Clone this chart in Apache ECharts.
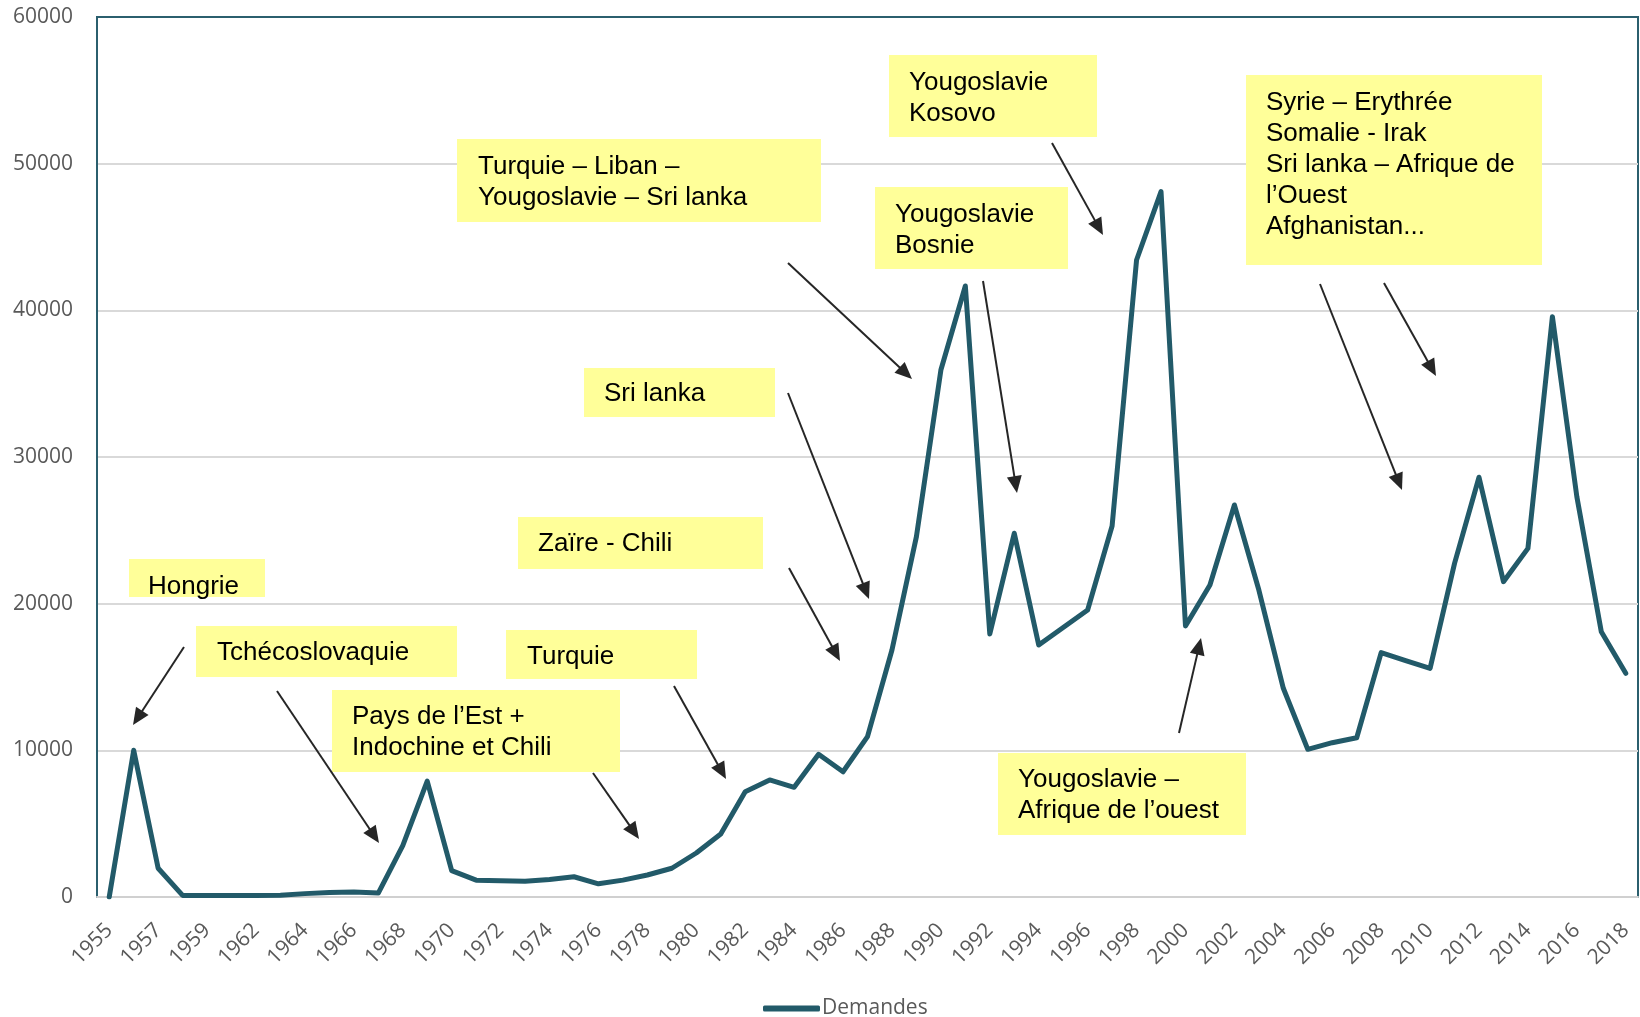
<!DOCTYPE html>
<html>
<head>
<meta charset="utf-8">
<script src="https://cdn.jsdelivr.net/npm/echarts@6/dist/echarts.min.js"></script>
<style>
  html, body { margin: 0; padding: 0; background: #fff; }
  #chart { width: 1640px; height: 1017px; }
</style>
</head>
<body>
<div id="chart"></div>
<script>
// years (1960 is absent from the source table)
const years = [
  '1955', '1956', '1957', '1958', '1959', '1961', '1962', '1963', '1964', '1965',
  '1966', '1967', '1968', '1969', '1970', '1971', '1972', '1973', '1974', '1975',
  '1976', '1977', '1978', '1979', '1980', '1981', '1982', '1983', '1984', '1985',
  '1986', '1987', '1988', '1989', '1990', '1991', '1992', '1993', '1994', '1995',
  '1996', '1997', '1998', '1999', '2000', '2001', '2002', '2003', '2004', '2005',
  '2006', '2007', '2008', '2009', '2010', '2011', '2012', '2013', '2014', '2015',
  '2016', '2017', '2018'
];
const demandes = [
  0, 10000, 1960, 110, 110, 110, 110, 120, 230, 300,
  340, 270, 3500, 7900, 1800, 1150, 1100, 1080, 1200, 1380,
  900, 1150, 1500, 1960, 3000, 4300, 7180, 7980, 7480, 9730,
  8540, 10930, 16840, 24570, 35930, 41660, 17930, 24800, 17180, 18380,
  19570, 25300, 43430, 48090, 18480, 21270, 26730, 20930, 14230, 10070,
  10520, 10860, 16660, 16110, 15590, 22750, 28620, 21500, 23770, 39570,
  27290, 18090, 15250
];
const yTicks = [0, 10000, 20000, 30000, 40000, 50000, 60000];

// annotation notes: text, box [x, y, w, h], text left, first line centre
const notes = [
  { text: 'Hongrie', box: [129, 559, 136, 38], tx: 148, ty: 587 },
  { text: 'Tchécoslovaquie', box: [196, 626, 261, 51], tx: 217, ty: 653 },
  { text: 'Pays de l’Est +\nIndochine et Chili', box: [332, 690, 288, 82], tx: 352, ty: 717 },
  { text: 'Turquie', box: [506, 630, 191, 49], tx: 527, ty: 657 },
  { text: 'Zaïre - Chili', box: [518, 517, 245, 52], tx: 538, ty: 544 },
  { text: 'Sri lanka', box: [584, 368, 191, 49], tx: 604, ty: 394 },
  { text: 'Turquie – Liban –\nYougoslavie – Sri lanka', box: [457, 139, 364, 83], tx: 478, ty: 167 },
  { text: 'Yougoslavie\nBosnie', box: [875, 187, 193, 82], tx: 895, ty: 215 },
  { text: 'Yougoslavie\nKosovo', box: [889, 55, 208, 82], tx: 909, ty: 83 },
  { text: 'Syrie – Erythrée\nSomalie - Irak\nSri lanka – Afrique de\nl’Ouest\nAfghanistan...', box: [1246, 75, 296, 190], tx: 1266, ty: 103 },
  { text: 'Yougoslavie –\nAfrique de l’ouest', box: [998, 753, 248, 82], tx: 1018, ty: 780 }
];

// arrows: [x1, y1, x2, y2], head at the second point
const arrows = [
  [184, 647, 133, 725],
  [277, 691, 379, 843],
  [593, 773, 639, 839],
  [674, 686, 726, 779],
  [789, 568, 840, 661],
  [788, 393, 869, 599],
  [788, 263, 912, 379],
  [983, 281, 1017, 493],
  [1052, 143, 1103, 235],
  [1179, 733, 1201, 638],
  [1320, 284, 1402, 490],
  [1384, 283, 1436, 376]
];

const LINE_H = 31;
const graphics = [];
notes.forEach(n => {
  graphics.push({
    type: 'rect',
    shape: { x: n.box[0], y: n.box[1], width: n.box[2], height: n.box[3] },
    style: { fill: '#FFFF99' },
    z: 10
  });
  graphics.push({
    type: 'text',
    x: n.tx,
    y: n.ty - LINE_H / 2,
    style: {
      text: n.text,
      fill: '#000',
      fontSize: 26,
      fontFamily: '"Liberation Sans", Arial',
      lineHeight: LINE_H,
      verticalAlign: 'top'
    },
    z: 11
  });
});

arrows.forEach(a => {
  const [x1, y1, x2, y2] = a;
  const dx = x2 - x1, dy = y2 - y1;
  const len = Math.sqrt(dx * dx + dy * dy);
  const ux = dx / len, uy = dy / len;
  const headL = 17, headW = 7.5;
  const bx = x2 - ux * headL, by = y2 - uy * headL;
  graphics.push({
    type: 'line',
    shape: { x1: x1, y1: y1, x2: bx + ux * 2, y2: by + uy * 2 },
    style: { stroke: '#262626', lineWidth: 2 },
    z: 10
  });
  graphics.push({
    type: 'polygon',
    shape: { points: [[x2, y2], [bx - uy * headW, by + ux * headW], [bx + uy * headW, by - ux * headW]] },
    style: { fill: '#262626' },
    z: 10
  });
});

const chart = echarts.init(document.getElementById('chart'));
chart.setOption({
  animation: false,
  backgroundColor: '#fff',
  grid: {
    left: 97,
    right: 2,
    top: 17,
    bottom: 120,
    show: true,
    borderColor: '#2B5F6E',
    borderWidth: 2
  },
  legend: {
    data: ['Demandes'],
    left: 758,
    top: 993,
    icon: 'roundRect',
    itemWidth: 57,
    itemHeight: 6,
    textStyle: { color: '#595959', fontSize: 21, fontFamily: '"Open Sans", sans-serif', padding: [0, 0, 0, -3] }
  },
  xAxis: {
    type: 'category',
    data: years,
    boundaryGap: true,
    axisLine: { lineStyle: { color: '#D0D0D0', width: 2 } },
    axisTick: { show: false },
    axisLabel: {
      interval: 1,
      rotate: 45,
      margin: 30,
      color: '#595959',
      fontSize: 21,
      fontFamily: '"Open Sans", sans-serif'
    }
  },
  yAxis: {
    type: 'value',
    min: yTicks[0],
    max: yTicks[yTicks.length - 1],
    interval: yTicks[1] - yTicks[0],
    axisLine: { show: true, lineStyle: { color: '#2B5F6E', width: 2 } },
    axisTick: { show: false },
    splitLine: { showMinLine: false, showMaxLine: false, lineStyle: { color: '#D9D9D9', width: 2 } },
    axisLabel: {
      margin: 24,
      color: '#595959',
      fontSize: 21,
      fontFamily: '"Open Sans", sans-serif',
      formatter: v => String(v)
    }
  },
  series: [{
    name: 'Demandes',
    type: 'line',
    data: demandes,
    symbol: 'none',
    color: '#225A69',
    lineStyle: { width: 5, color: '#225A69', cap: 'round', join: 'round' },
    z: 3
  }],
  graphic: graphics
});
</script>
</body>
</html>
